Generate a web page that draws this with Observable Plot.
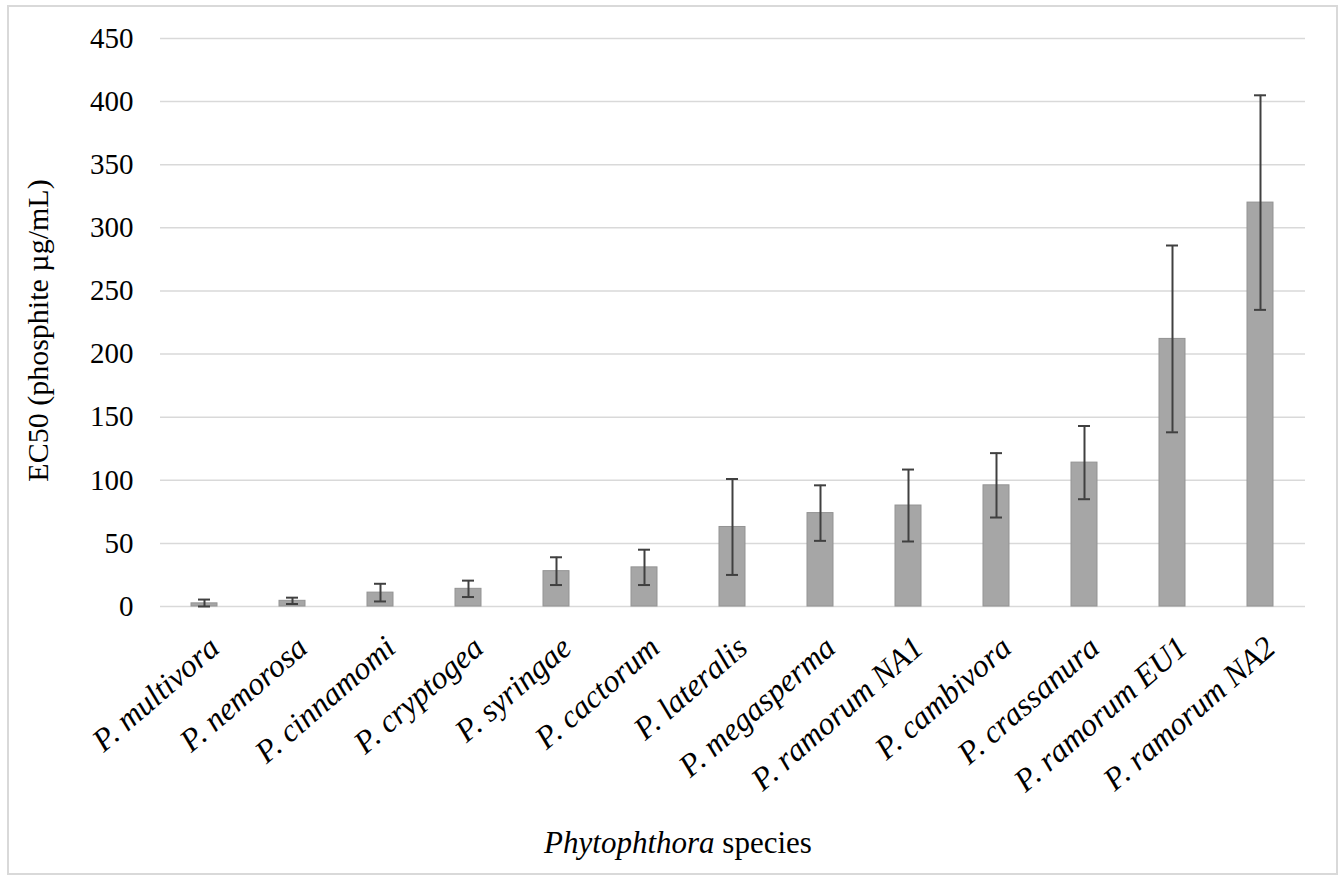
<!DOCTYPE html>
<html>
<head>
<meta charset="utf-8">
<script src="https://cdn.jsdelivr.net/npm/d3@7"></script>
<script src="https://cdn.jsdelivr.net/npm/@observablehq/plot@0.6"></script>
<style>
  html, body { margin: 0; padding: 0; background: #fff; }
  #wrap { position: relative; width: 1341px; height: 878px; overflow: hidden; }
  #border { position: absolute; left: 7px; top: 5px; width: 1327px; height: 866px; border: 2px solid #d9d9d9; }
  #chart { position: absolute; left: 0; top: 0; }
  #xtitle { position: absolute; left: 0; width: 1356px; top: 827px; text-align: center; line-height: 31px;
            font-family: "Liberation Serif", "Times New Roman", serif; font-size: 31px; color: #000; }
</style>
</head>
<body>
<div id="wrap">
  <div id="border"></div>
  <div id="chart"></div>
  <div id="xtitle"><i>Phytophthora</i> species</div>
</div>
<script>
const species = ["P. multivora", "P. nemorosa", "P. cinnamomi", "P. cryptogea", "P. syringae", "P. cactorum", "P. lateralis", "P. megasperma", "P. ramorum NA1", "P. cambivora", "P. crassanura", "P. ramorum EU1", "P. ramorum NA2"];
const ec50 = [2.5, 4.5, 11, 14, 28, 31, 63, 74, 80, 96, 114, 212, 320];
const errs = [3, 2.5, 7, 6.5, 11, 14, 38, 22, 28.5, 25.5, 29, 74, 85];
const yTicks = [0, 50, 100, 150, 200, 250, 300, 350, 400, 450];
const yTitle = "EC50 (phosphite µg/mL)";

const data = species.map((s, i) => ({species: s, value: ec50[i], err: errs[i]}));
const serif = "'Liberation Serif', 'Times New Roman', serif";

const chart = Plot.plot({
  width: 1341,
  height: 878,
  marginLeft: 160,
  marginRight: 36,
  marginTop: 38,
  marginBottom: 272,
  style: {fontFamily: serif, fontSize: "29px", color: "#000", background: "transparent"},
  x: {domain: species, paddingInner: 0.7, paddingOuter: 0.35, axis: null},
  y: {domain: [0, 450], axis: null},
  marks: [
    Plot.gridY(yTicks, {stroke: "#d9d9d9", strokeOpacity: 1, strokeWidth: 1.5}),
    Plot.barY(data, {x: "species", y: "value", fill: "#a6a6a6", stroke: "#939393", strokeWidth: 1}),
    Plot.ruleX(data, {x: "species", y1: d => d.value - d.err, y2: d => d.value + d.err, stroke: "#404040", strokeWidth: 2}),
    Plot.tickY(data, {x: "species", y: d => d.value + d.err, insetLeft: 7, insetRight: 7, stroke: "#404040", strokeWidth: 2}),
    Plot.tickY(data, {x: "species", y: d => Math.max(0, d.value - d.err), insetLeft: 7, insetRight: 7, stroke: "#404040", strokeWidth: 2}),
    // y tick labels
    Plot.text(yTicks, {y: d => d, text: d => String(d), frameAnchor: "left", dx: -27, textAnchor: "end",
      fontSize: 29, fontFamily: serif, fill: "#000"}),
    // x tick labels, rotated
    Plot.text(species, {x: d => d, text: d => d, frameAnchor: "bottom", dx: 2, dy: 27, rotate: -41,
      textAnchor: "end", lineAnchor: "top", fontSize: 32, fontStyle: "italic", fontFamily: serif, fill: "#000"}),
    // y axis title
    Plot.text([yTitle], {text: d => d, frameAnchor: "left", dx: -122, dy: 8, rotate: -90,
      textAnchor: "middle", lineAnchor: "middle", fontSize: 30, fontFamily: serif, fill: "#000"})
  ]
});
document.getElementById("chart").appendChild(chart);
</script>
</body>
</html>
